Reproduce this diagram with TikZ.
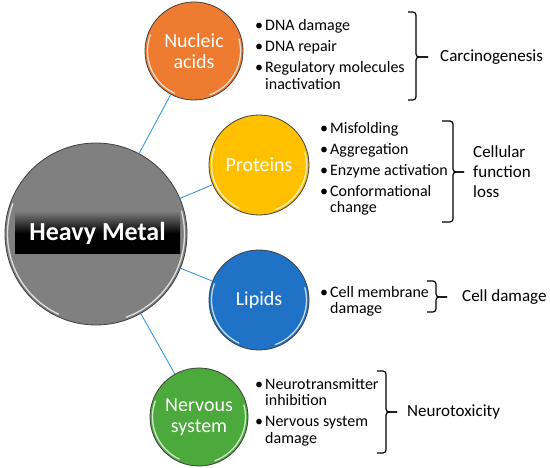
\documentclass[tikz,border=0pt]{standalone}
\usepackage{fontspec}
\setmainfont{Carlito}
\definecolor{cOrange}{HTML}{EE7B30}
\definecolor{cYellow}{HTML}{FFC000}
\definecolor{cBlue}{HTML}{1F72C6}
\definecolor{cGreen}{HTML}{4CA93C}
\definecolor{cGray}{HTML}{808080}
\definecolor{cLine}{HTML}{3A9AD9}
\newcommand\bl{\makebox[10pt][l]{\textbullet}}
\newcommand\glossy[2]{%
  \begin{scope}[shift={(#1.center)}, x=1pt, y=1pt]
    \draw[white, opacity=.75, line width=1.3pt, line cap=round] (160:#2) arc (160:245:#2);
    \draw[white, opacity=.75, line width=1.3pt, line cap=round] (-70:#2) arc (-70:15:#2);
  \end{scope}}
\newcommand\bracecurl[6]{%
  \draw[bracepath] (#1,#3) -- (#2,#3) -- (#2,#4) -- (#6,#4);
  \draw[bracepath] (#1,#5) -- (#2,#5) -- (#2,#4) -- (#6,#4);}
\begin{document}
\begin{tikzpicture}[x=1pt,y=-1pt,
  topic/.style={circle, draw=black!75, line width=0.8pt, text=white,
    font=\fontsize{20}{21}\selectfont, align=center, inner sep=0pt},
  link/.style={draw=cLine, line width=0.9pt},
  items/.style={anchor=base west, inner sep=0pt, font=\fontsize{16}{16.5}\selectfont},
  result/.style={anchor=west, inner sep=0pt, font=\fontsize{17}{20}\selectfont, align=left},
  bracepath/.style={draw=black, line width=1.2pt, rounded corners=3pt}]
\useasboundingbox (0,0) rectangle (550,468);
% circles
\node[topic, fill=cGray, minimum size=182] (hm) at (96,234) {};
\node[topic, fill=cOrange, minimum size=98] (na) at (194,51) {Nucleic\\acids};
\node[topic, fill=cYellow, minimum size=100] (pr) at (259,165) {Proteins};
\node[topic, fill=cBlue, minimum size=100] (li) at (259,300) {Lipids};
\node[topic, fill=cGreen, minimum size=98] (ns) at (199,417) {Nervous\\system};
\glossy{hm}{88.5}
\glossy{na}{46.5}
\glossy{pr}{47.5}
\glossy{li}{47.5}
\glossy{ns}{46.5}
% heavy metal band
\node[top color=black!55, bottom color=black, middle color=black, minimum width=165, minimum height=41,
  inner sep=0pt, text=white, font=\bfseries\fontsize{26}{26}\selectfont] (hmt) at (97.5,233.5) {Heavy Metal};
% links
\draw[link] (hm) -- (na);
\draw[link] (hm) -- (pr);
\draw[link] (hm) -- (li);
\draw[link] (hm) -- (ns);
% lists
\node[items] (l1) at (255,31) {\begin{tabular}[t]{@{}l@{}}
  \bl DNA damage\\[4.5pt]
  \bl DNA repair\\[4.5pt]
  \bl Regulatory molecules\\
  \hspace*{10pt}inactivation\end{tabular}};
\node[items] (l2) at (320,133.5) {\begin{tabular}[t]{@{}l@{}}
  \bl Misfolding\\[4.5pt]
  \bl Aggregation\\[4.5pt]
  \bl Enzyme activation\\[4.5pt]
  \bl Conformational\\
  \hspace*{10pt}change\end{tabular}};
\node[items] (l3) at (320,297.5) {\begin{tabular}[t]{@{}l@{}}
  \bl Cell membrane\\
  \hspace*{10pt}damage\end{tabular}};
\node[items] (l4) at (255,389.5) {\begin{tabular}[t]{@{}l@{}}
  \bl Neurotransmitter\\
  \hspace*{10pt}inhibition\\[4.5pt]
  \bl Nervous system\\
  \hspace*{10pt}damage\end{tabular}};
% braces
\bracecurl{408}{416}{12}{57}{100}{428}
\bracecurl{442}{453}{121}{172}{222}{464}
\bracecurl{427}{436}{281}{297}{312}{447}
\bracecurl{377}{386}{371}{412}{453}{397}
% results
\node[result] (r1) at (440,57) {Carcinogenesis};
\node[result] (r2) at (473,172) {Cellular\\function\\loss};
\node[result] (r3) at (462,297) {Cell damage};
\node[result] (r4) at (407,412) {Neurotoxicity};
\end{tikzpicture}
\end{document}
